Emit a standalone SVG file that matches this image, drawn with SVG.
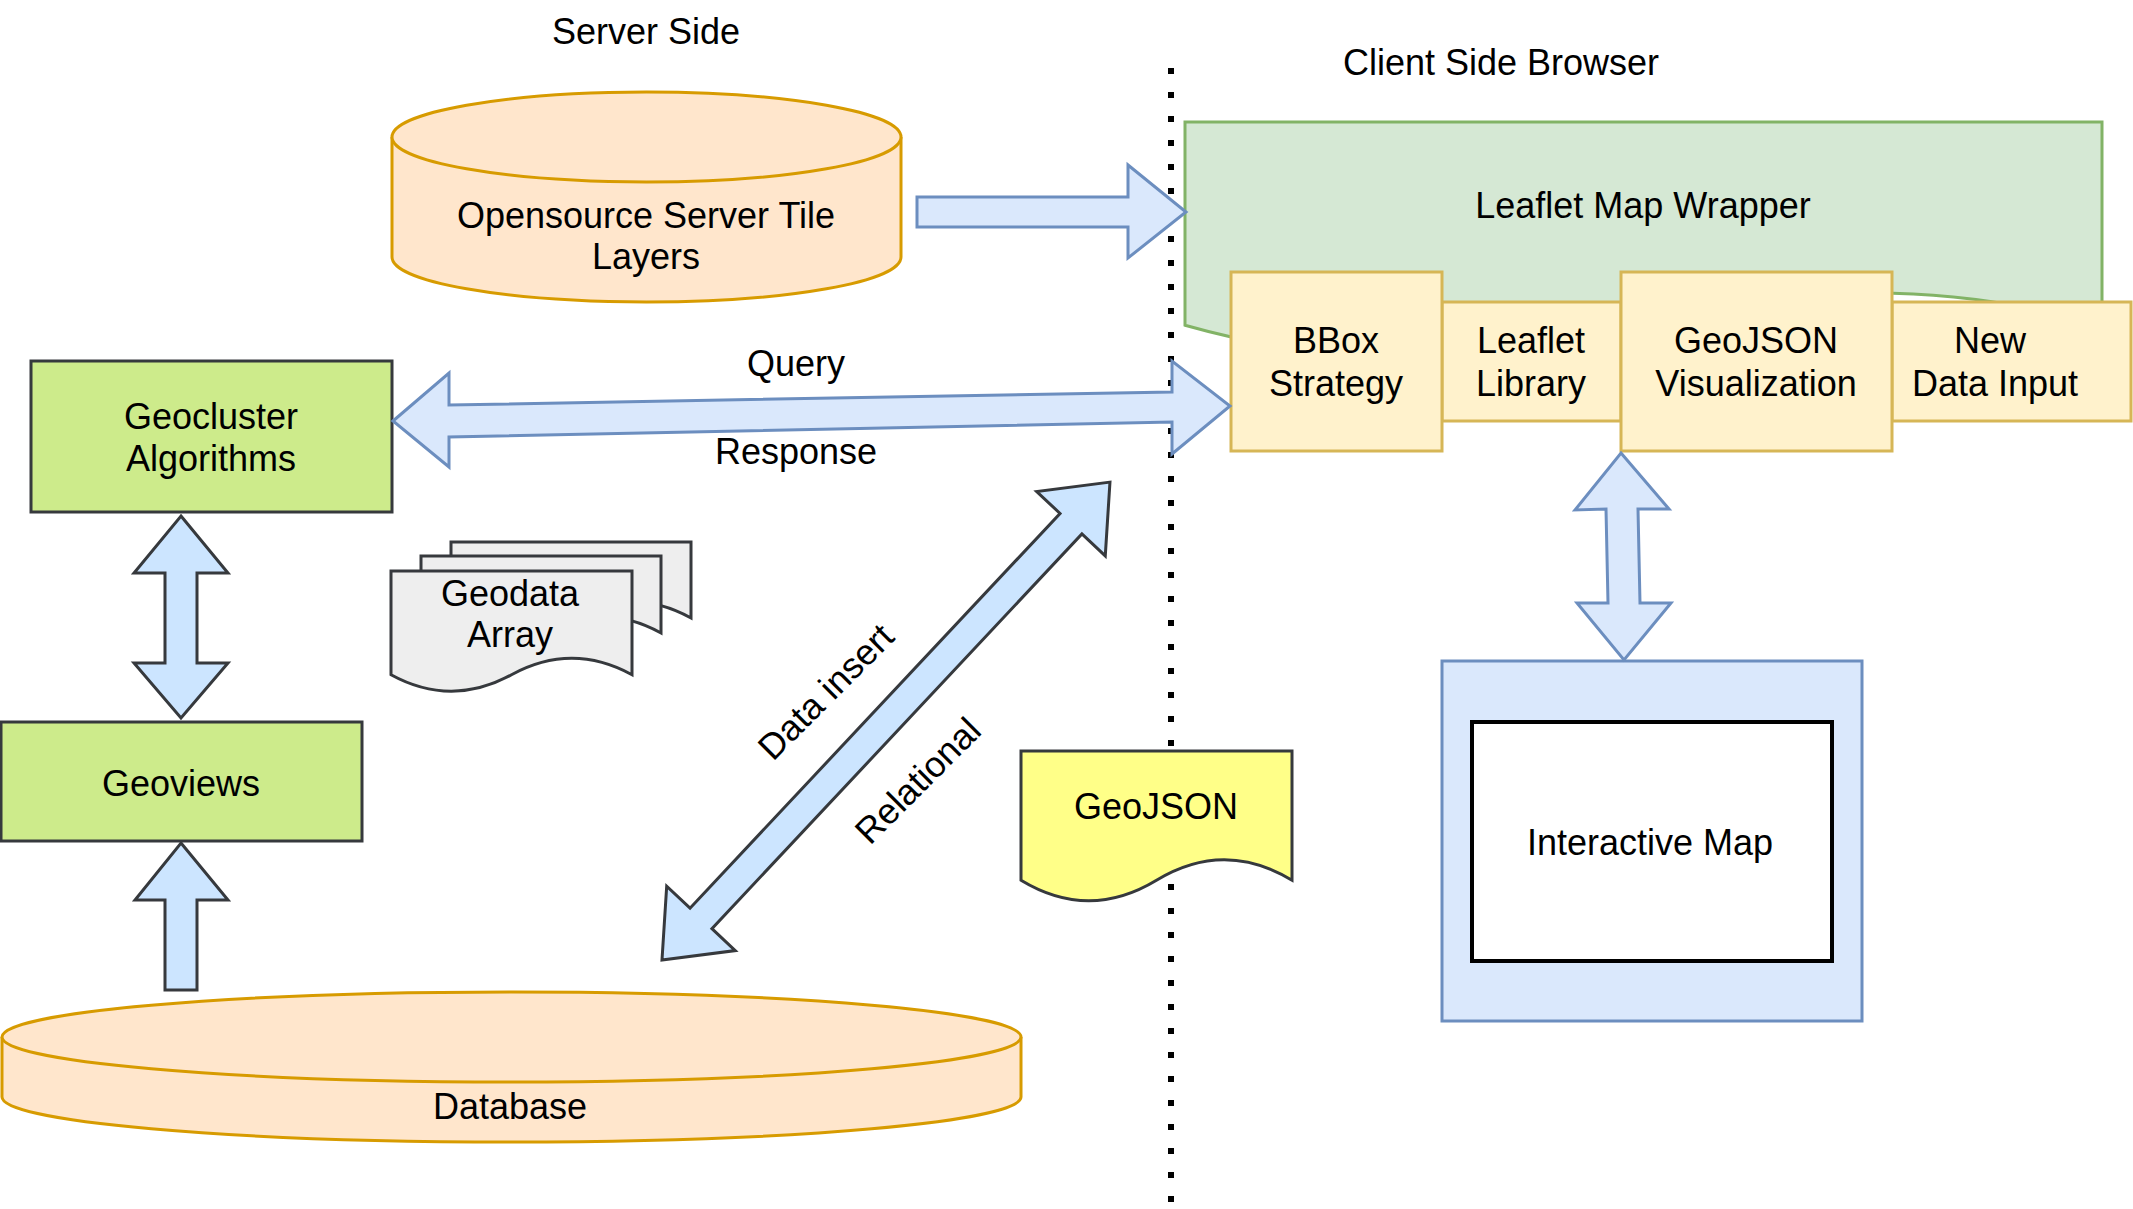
<svg xmlns="http://www.w3.org/2000/svg" width="2133" height="1209" viewBox="0 0 2133 1209">
<style>
text{font-family:"Liberation Sans",Arial,sans-serif;font-size:36px;fill:#000;text-anchor:middle}
.cyl{fill:#ffe6cc;stroke:#d79b00;stroke-width:3}
.y{fill:#fff2cc;stroke:#d6b656;stroke-width:3}
.g{fill:#cdeb8b;stroke:#36393d;stroke-width:3}
.ba{fill:#dae8fc;stroke:#6c8ebf;stroke-width:3;stroke-linejoin:miter}
.da{fill:#cce5ff;stroke:#36393d;stroke-width:3;stroke-linejoin:miter}
.doc{fill:#eeeeee;stroke:#36393d;stroke-width:3}
</style>
<rect width="2133" height="1209" fill="#ffffff"/>
<g id="divider">
<line x1="1171" y1="68" x2="1171" y2="1204" stroke="#000" stroke-width="6" stroke-dasharray="6 18"/>
</g>
<g id="labels">
<text x="646" y="44">Server Side</text>
<text x="1501" y="75">Client Side Browser</text>
</g>
<g id="tile-layers">
<path class="cyl" d="M392,137 A254.5,45 0 0 1 901,137 L901,257 A254.5,45 0 0 1 392,257 Z"/>
<path class="cyl" fill="none" d="M392,137 A254.5,45 0 0 0 901,137"/>
<text x="646" y="228">Opensource Server Tile</text>
<text x="646" y="269">Layers</text>
</g>
<g id="leaflet-wrapper">
<path fill="#d5e8d4" stroke="#82b366" stroke-width="3" d="M1185,122 H2102 V325.2 Q1872.75,260.6 1643.5,325.2 Q1414.25,389.7 1185,325.2 Z"/>
<text x="1643" y="218">Leaflet Map Wrapper</text>
</g>
<g id="leaflet-library">
<rect class="y" x="1442" y="302" width="179" height="119"/>
<text x="1531" y="353">Leaflet</text>
<text x="1531" y="396">Library</text>
</g>
<g id="new-data-input">
<rect class="y" x="1892" y="302" width="239" height="119"/>
<text x="1990" y="353">New</text>
<text x="1995" y="396">Data Input</text>
</g>
<g id="bbox-strategy">
<rect class="y" x="1231" y="272" width="211" height="179"/>
<text x="1336" y="353">BBox</text>
<text x="1336" y="396">Strategy</text>
</g>
<g id="geojson-visualization">
<rect class="y" x="1621" y="272" width="271" height="179"/>
<text x="1756" y="353">GeoJSON</text>
<text x="1756" y="396">Visualization</text>
</g>
<g id="geocluster">
<rect class="g" x="31" y="361" width="361" height="151"/>
<text x="211" y="429">Geocluster</text>
<text x="211" y="471">Algorithms</text>
</g>
<g id="geoviews">
<rect class="g" x="1" y="722" width="361" height="119"/>
<text x="181" y="796">Geoviews</text>
</g>
<g id="geodata-array">
<path class="doc" d="M451,542 H691 V618 Q631,585.1 571,618 Q511,650.9 451,618 Z"/>
<path class="doc" d="M421,556 H661 V633 Q601,600.1 541,633 Q481,665.9 421,633 Z"/>
<path class="doc" d="M391,571 H632 V674.7 Q571.75,641.8 511.5,674.7 Q451.25,707.6 391,674.7 Z"/>
<text x="510" y="606">Geodata</text>
<text x="510" y="647">Array</text>
</g>
<g id="geojson-doc">
<path fill="#ffff88" stroke="#36393d" stroke-width="3" d="M1021,751 H1292 V880.2 Q1224.25,839.2 1156.5,880.2 Q1088.75,921.2 1021,880.2 Z"/>
<text x="1156" y="819">GeoJSON</text>
</g>
<g id="interactive-map">
<rect fill="#dae8fc" stroke="#6c8ebf" stroke-width="3" x="1442" y="661" width="420" height="360"/>
<rect fill="#ffffff" stroke="#000000" stroke-width="4" x="1472" y="722" width="360" height="239"/>
<text x="1650" y="855">Interactive Map</text>
</g>
<g id="database">
<path class="cyl" d="M2,1037 A509.5,45 0 0 1 1021,1037 L1021,1097 A509.5,45 0 0 1 2,1097 Z"/>
<path class="cyl" fill="none" d="M2,1037 A509.5,45 0 0 0 1021,1037"/>
<text x="510" y="1119">Database</text>
</g>
<g id="connectors">
<polygon class="ba" points="917,197 1128,197 1128,165 1186,212 1128,258 1128,227 917,227"/>
<polygon class="ba" points="393,421 449,373 449,405 1172,392 1172,361 1230,406 1172,454 1172,422 449,437 449,467"/>
<polygon class="ba" points="1621,453 1669,509 1638,509 1640,603 1671,603 1624,660 1577,603 1608,603 1606,509 1575,510"/>
<polygon class="da" points="181,516 228,573 197,573 197,663 228,663 181,718 134,663 165,663 165,573 134,573"/>
<polygon class="da" points="181,843 228,900 197,900 197,990 165,990 165,900 135,900"/>
<polygon class="da" transform="translate(662,960) rotate(-46.85)" points="0,0 57,-47 57,-15 598,-15 598,-47 655,0 598,47 598,15 57,15 57,47"/>
<text x="796" y="376">Query</text>
<text x="796" y="464">Response</text>
<text transform="translate(826,692) rotate(-45)" x="0" y="12">Data insert</text>
<text transform="translate(918,781) rotate(-45)" x="0" y="12">Relational</text>
</g>
</svg>
